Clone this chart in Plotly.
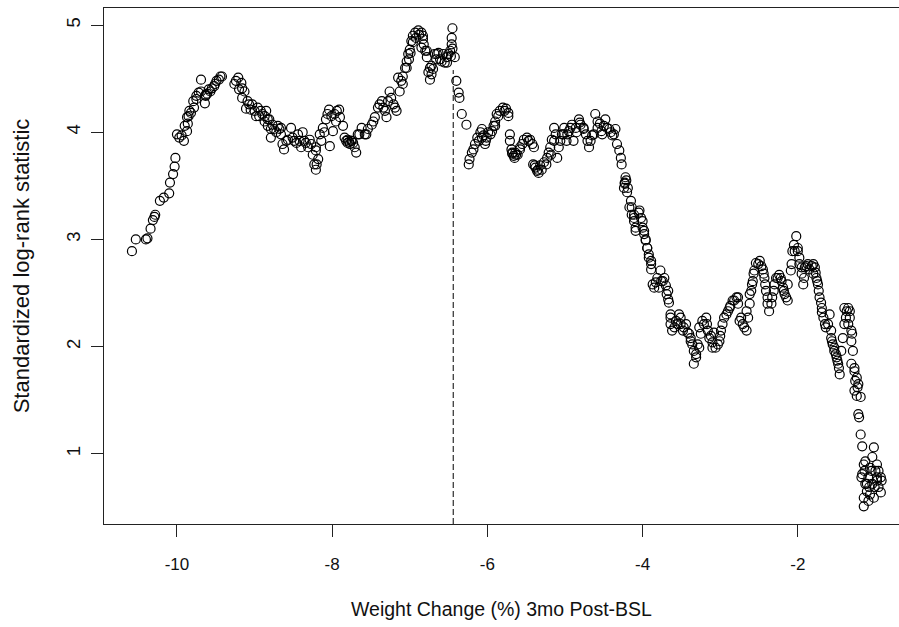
import plotly.graph_objects as go

# Gewichtsaenderung (%) und standardisierte Log-Rank-Statistik
weight_change = [
    -10.58, -10.53, -10.40, -10.38, -10.34, -10.31, -10.29, -10.28, -10.22, -10.17,
    -10.10, -10.09, -10.05, -10.03, -10.02, -10.00, -9.94, -9.91, -9.87, -9.86,
    -9.85, -9.84, -9.78, -9.75, -9.72, -9.69, -9.64, -9.63, -9.61, -9.57,
    -9.55, -9.51, -9.49, -9.44, -9.42,
    -9.26, -9.21, -9.17, -9.16, -9.13, -9.16, -9.11,
    -9.07, -9.03, -9.00, -8.96, -8.94, -8.90, -8.87, -8.85, -8.83, -8.81,
    -8.79, -8.77, -8.79, -8.72, -8.68, -8.66, -8.64, -8.62, -8.59, -8.53,
    -8.51, -8.46, -8.44, -8.40, -8.38, -8.36, -8.31, -8.27, -8.25, -8.23,
    -8.21, -8.21, -8.18, -8.16, -8.12, -8.08, -8.04, -8.01, -7.99, -8.03,
    -7.95, -7.91, -7.90, -7.86, -7.82, -7.80, -7.78, -7.77, -7.75, -7.73,
    -7.69, -7.67, -7.62, -7.58, -7.54, -7.49, -7.45, -7.41, -7.36, -7.32,
    -7.30, -7.26, -7.21, -7.17, -7.15,
    -7.13, -7.11, -7.09, -7.06, -7.04, -7.02, -7.00, -6.98, -6.96, -6.93,
    -6.89, -6.85, -6.83, -6.85, -6.80, -6.78, -6.74, -6.72, -6.74, -6.70,
    -6.68, -6.63, -6.61, -6.57, -6.55, -6.52, -6.50, -6.48, -6.46, -6.46,
    -6.45, -6.45, -6.42, -6.40, -6.37, -6.36, -6.33, -6.27,
    -6.24, -6.23, -6.20, -6.16, -6.13, -6.09, -6.07, -6.05, -6.03, -6.01,
    -5.99, -5.94, -5.92, -5.90, -5.88, -5.84, -5.80, -5.76, -5.73, -5.73,
    -5.71, -5.71, -5.69, -5.68, -5.66, -5.64, -5.61, -5.58, -5.55, -5.53,
    -5.49, -5.45, -5.40, -5.41, -5.38, -5.36, -5.34, -5.30, -5.27, -5.23,
    -5.21, -5.19, -5.17, -5.14, -5.12, -5.10, -5.08, -5.04, -5.01, -4.98,
    -4.95, -4.91, -4.89, -4.86, -4.82, -4.80, -4.76, -4.73, -4.69, -4.67,
    -4.63, -4.61, -4.58, -4.55, -4.52, -4.48, -4.46, -4.41, -4.37, -4.35,
    -4.33, -4.30, -4.28, -4.27, -4.23, -4.22, -4.21, -4.24, -4.20, -4.17,
    -4.14, -4.11, -4.09, -4.04, -4.02, -4.00, -3.98, -3.96, -3.94, -3.92,
    -3.89,
    -3.89, -3.87, -3.85, -3.81, -3.77, -3.74, -3.70, -3.67, -3.66, -3.64,
    -3.64, -3.62, -3.57, -3.53, -3.51, -3.47, -3.42, -3.38, -3.36, -3.34,
    -3.34, -3.31, -3.27, -3.27, -3.23, -3.18, -3.16, -3.14, -3.10, -3.08,
    -3.06, -3.01, -2.99, -2.97, -2.95, -2.90, -2.87, -2.84, -2.79, -2.77,
    -2.75, -2.71, -2.66, -2.64, -2.62, -2.60, -2.58, -2.56, -2.54, -2.49,
    -2.45, -2.43, -2.41, -2.39, -2.37, -2.33, -2.30, -2.28, -2.24, -2.21,
    -2.19, -2.17, -2.13, -2.13, -2.08, -2.07, -2.05, -2.02, -2.00, -1.98,
    -1.95, -1.93, -1.91, -1.87, -1.82, -1.80, -1.78, -1.76, -1.74, -1.72,
    -1.69, -1.67, -1.64, -1.61, -1.59, -1.57, -1.55, -1.53, -1.50, -1.48,
    -1.46, -1.44, -1.42, -1.40, -1.37, -1.35, -1.33, -1.31, -1.31, -1.29,
    -1.31, -1.27, -1.24, -1.22, -1.27, -1.19, -1.22, -1.21, -1.19, -1.17,
    -1.15, -1.17, -1.13, -1.15, -1.15, -1.11, -1.09, -1.07, -1.04, -1.02,
    -1.00, -0.98, -0.96, -0.93, -0.92, -1.04, -1.02, -1.09, -0.93, -0.98,
    # zweite Ablesung in den dichten Bereichen
    -9.97, -9.90, -9.87, -9.82, -9.79, -9.75, -9.69, -9.63, -9.59, -9.52,
    -9.46, -9.24, -9.20, -9.09, -9.05, -8.98, -8.92, -8.87, -8.83, -8.75,
    -8.70, -8.66, -8.57, -8.49, -8.42, -8.34, -8.29, -8.21, -8.20, -8.14,
    -8.10, -8.06, -7.97, -7.94, -7.84, -7.80, -7.75, -7.71, -7.65, -7.56,
    -7.47, -7.39, -7.34, -7.28, -7.24, -7.19,
    -7.09, -7.04, -7.01, -6.99, -6.96, -6.92, -6.88, -6.83, -6.82, -6.78,
    -6.76, -6.72, -6.66, -6.65, -6.59, -6.52, -6.47,
    -6.18, -6.11, -6.07, -6.02, -5.96, -5.90, -5.86, -5.78, -5.68, -5.65,
    -5.63, -5.58, -5.47, -5.42, -5.39, -5.35, -5.32, -5.24, -5.18, -5.14,
    -5.06, -5.02, -4.97, -4.93, -4.85, -4.81, -4.76, -4.71, -4.65, -4.58,
    -4.53, -4.50, -4.43, -4.39, -4.23, -4.19, -4.15, -4.11,
    -4.14, -4.11, -4.09, -4.05, -4.00, -3.98, -3.96, -3.94, -3.92, -3.89,
    -3.83, -3.79, -3.76, -3.72, -3.69, -3.67, -3.64, -3.59, -3.55, -3.51,
    -3.48, -3.44, -3.40, -3.38, -3.31, -3.29, -3.25, -3.21, -3.17, -3.12,
    -3.10, -3.03, -3.00, -2.92, -2.88, -2.82, -2.77, -2.73, -2.69, -2.66,
    -2.62, -2.59, -2.57, -2.51, -2.47, -2.44, -2.42, -2.39, -2.34, -2.31,
    -2.26, -2.22, -2.18, -2.15, -2.09, -2.04, -2.00, -1.98, -1.95, -1.92,
    -1.89, -1.85, -1.80, -1.77, -1.75, -1.73, -1.70, -1.69, -1.65, -1.57,
    -1.56, -1.53, -1.51, -1.49, -1.47, -1.40, -1.38, -1.35, -1.33, -1.30,
    -1.27, -1.26, -1.23, -1.24, -1.18, -1.14, -1.13, -1.11, -1.08, -1.07,
    -1.05, -1.01, -0.98, -0.96,
]
logrank_stat = [
    2.89, 3.00, 3.00, 3.01, 3.10, 3.18, 3.21, 3.23, 3.36, 3.39,
    3.43, 3.53, 3.61, 3.68, 3.76, 3.98, 3.97, 3.92, 4.01, 4.08,
    4.15, 4.20, 4.23, 4.31, 4.37, 4.49, 4.27, 4.34, 4.36, 4.38,
    4.41, 4.45, 4.48, 4.52, 4.52,
    4.45, 4.51, 4.46, 4.41, 4.38, 4.32, 4.22,
    4.26, 4.26, 4.20, 4.23, 4.15, 4.17, 4.10, 4.20, 4.06, 4.12,
    4.03, 4.07, 3.95, 4.00, 4.03, 3.98, 3.89, 3.84, 3.92, 4.04,
    3.95, 3.90, 3.98, 3.86, 4.00, 3.92, 3.86, 3.89, 3.79, 3.70,
    3.65, 3.83, 3.75, 3.98, 4.04, 4.12, 4.21, 4.15, 4.01, 3.87,
    4.10, 4.21, 4.14, 4.06, 3.92, 3.93, 3.91, 3.89, 3.92, 3.90,
    3.81, 3.98, 4.04, 3.98, 4.03, 4.07, 4.14, 4.23, 4.29, 4.20,
    4.14, 4.38, 4.26, 4.20, 4.51,
    4.38, 4.48, 4.52, 4.60, 4.66, 4.73, 4.77, 4.85, 4.90, 4.93,
    4.95, 4.93, 4.87, 4.79, 4.76, 4.70, 4.60, 4.54, 4.49, 4.59,
    4.73, 4.74, 4.68, 4.73, 4.65, 4.70, 4.73, 4.76, 4.82, 4.88,
    4.97, 4.78, 4.70, 4.48, 4.37, 4.32, 4.17, 4.07,
    3.70, 3.75, 3.81, 3.89, 3.95, 4.00, 4.03, 3.97, 3.89, 3.95,
    4.00, 4.01, 4.06, 4.10, 4.17, 4.20, 4.23, 4.22, 4.18, 4.15,
    3.98, 3.92, 3.84, 3.80, 3.78, 3.81, 3.79, 3.86, 3.89, 3.93,
    3.95, 3.93, 3.86, 3.70, 3.67, 3.64, 3.62, 3.65, 3.72, 3.76,
    3.81, 3.86, 3.93, 4.04, 3.98, 3.76, 3.86, 3.98, 4.04, 3.92,
    4.01, 4.07, 3.92, 4.04, 4.12, 4.07, 4.03, 3.98, 3.86, 3.92,
    3.98, 4.17, 4.04, 4.08, 3.98, 4.12, 4.04, 4.00, 3.98, 4.03,
    3.89, 3.83, 3.76, 3.70, 3.52, 3.58, 3.55, 3.48, 3.44, 3.30,
    3.23, 3.17, 3.08, 3.27, 3.20, 3.11, 3.05, 2.99, 2.92, 2.86,
    2.80,
    2.77, 2.58, 2.55, 2.64, 2.71, 2.61, 2.57, 2.52, 2.41, 2.30,
    2.21, 2.15, 2.24, 2.30, 2.21, 2.18, 2.13, 2.08, 2.02, 1.96,
    1.84, 1.90, 1.99, 2.18, 2.24, 2.27, 2.15, 2.08, 2.04, 2.13,
    1.99, 2.05, 2.15, 2.21, 2.27, 2.33, 2.38, 2.43, 2.46, 2.40,
    2.24, 2.21, 2.15, 2.27, 2.40, 2.52, 2.61, 2.71, 2.78, 2.80,
    2.72, 2.64, 2.52, 2.40, 2.33, 2.46, 2.58, 2.64, 2.67, 2.61,
    2.55, 2.49, 2.43, 2.58, 2.77, 2.89, 2.95, 3.03, 2.89, 2.77,
    2.68, 2.58, 2.74, 2.77, 2.75, 2.68, 2.74, 2.64, 2.58, 2.46,
    2.36, 2.27, 2.18, 2.21, 2.30, 2.08, 2.02, 1.96, 1.90, 1.84,
    1.74, 1.96, 2.08, 2.21, 2.33, 2.36, 2.27, 2.15, 2.05, 1.96,
    1.84, 1.77, 1.71, 1.65, 1.59, 1.53, 1.37, 1.34, 1.18, 1.07,
    0.90, 0.81, 0.72, 0.59, 0.51, 0.65, 0.78, 0.87, 0.97, 1.06,
    0.84, 0.75, 0.69, 0.78, 0.75, 0.72, 0.59, 0.56, 0.64, 0.90,
    # zweite Ablesung in den dichten Bereichen
    3.95, 4.06, 4.14, 4.18, 4.29, 4.34, 4.38, 4.35, 4.40, 4.43,
    4.49, 4.48, 4.40, 4.29, 4.21, 4.15, 4.20, 4.15, 4.12, 4.03,
    4.06, 4.04, 3.93, 3.92, 3.92, 3.90, 3.93, 3.86, 3.70, 3.92,
    4.00, 4.17, 4.17, 4.20, 3.95, 3.90, 3.92, 3.86, 3.98, 3.98,
    4.10, 4.26, 4.23, 4.29, 4.32, 4.23,
    4.45, 4.60, 4.68, 4.74, 4.84, 4.88, 4.91, 4.90, 4.82, 4.76,
    4.56, 4.62, 4.68, 4.73, 4.66, 4.65, 4.71,
    3.84, 3.92, 3.95, 3.92, 3.98, 4.06, 4.15, 4.20, 3.81, 3.76,
    3.79, 3.84, 3.92, 3.89, 3.69, 3.65, 3.69, 3.70, 3.79, 3.92,
    3.92, 3.98, 3.98, 4.04, 4.00, 4.09, 4.04, 3.92, 3.97, 4.10,
    4.01, 4.06, 4.03, 3.97, 3.53, 3.48, 3.36, 3.23,
    3.30, 3.20, 3.11, 3.25, 3.17, 3.08, 3.00, 2.92, 2.83, 2.72,
    2.60, 2.55, 2.61, 2.64, 2.49, 2.44, 2.27, 2.18, 2.21, 2.27,
    2.15, 2.21, 2.12, 2.05, 1.93, 2.02, 2.12, 2.21, 2.21, 2.10,
    1.99, 2.02, 2.10, 2.30, 2.36, 2.43, 2.46, 2.27, 2.18, 2.33,
    2.49, 2.58, 2.68, 2.77, 2.75, 2.68, 2.58, 2.46, 2.40, 2.52,
    2.64, 2.64, 2.52, 2.46, 2.71, 2.89, 2.92, 2.83, 2.74, 2.64,
    2.75, 2.72, 2.77, 2.69, 2.61, 2.52, 2.41, 2.32, 2.21, 2.15,
    2.05, 1.99, 1.93, 1.87, 1.80, 2.36, 2.27, 2.21, 2.33, 2.12,
    1.80, 1.68, 1.62, 1.54, 0.78, 0.84, 0.93, 0.72, 0.69, 0.62,
    0.84, 0.69, 0.78, 0.84,
]

cut_point = -6.44
cut_top = 4.58
x_ticks = [-10, -8, -6, -4, -2]
y_ticks = [1, 2, 3, 4, 5]

font = "Liberation Sans, Arial, sans-serif"

fig = go.Figure()
fig.add_trace(go.Scatter(
    x=weight_change, y=logrank_stat, mode="markers",
    marker=dict(symbol="circle-open", size=9, color="black",
                line=dict(color="black", width=1.2)),
    showlegend=False, hoverinfo="x+y"))

# gestrichelte Linie am optimalen Cut-Point
fig.add_shape(type="line", xref="x", yref="y",
              x0=cut_point, x1=cut_point, y0=0.345, y1=cut_top,
              line=dict(color="black", width=1, dash="6px,3px"))

fig.update_layout(
    width=899, height=627,
    margin=dict(l=104, r=0, t=8, b=103),
    paper_bgcolor="white", plot_bgcolor="white",
    font=dict(family=font, color="#111"),
    xaxis=dict(range=[-10.94, -0.696], tickvals=x_ticks,
               ticktext=[str(v) for v in x_ticks],
               showgrid=False, zeroline=False,
               showline=True, linecolor="#222", linewidth=1, mirror=True,
               ticks="outside", ticklen=12, tickcolor="#222",
               ticklabelstandoff=13, tickfont=dict(size=17),
               title=dict(text="Weight Change (%) 3mo Post-BSL",
                          font=dict(size=19.5), standoff=28)),
    yaxis=dict(range=[0.345, 5.159], tickvals=y_ticks,
               ticktext=[str(v) for v in y_ticks],
               showgrid=False, zeroline=False,
               showline=True, linecolor="#222", linewidth=1,
               ticks="outside", ticklen=12, tickcolor="#222",
               ticklabelstandoff=4,
               tickangle=-90, tickfont=dict(size=18.5),
               title=dict(text="Standardized log-rank statistic",
                          font=dict(size=22), standoff=26)),
)

# Seitenrand des Browsers entfernen, damit die Figur bei (0,0) beginnt
fig.write_html("out.html", config={"displayModeBar": False},
               post_script="document.body.style.margin='0px';")
